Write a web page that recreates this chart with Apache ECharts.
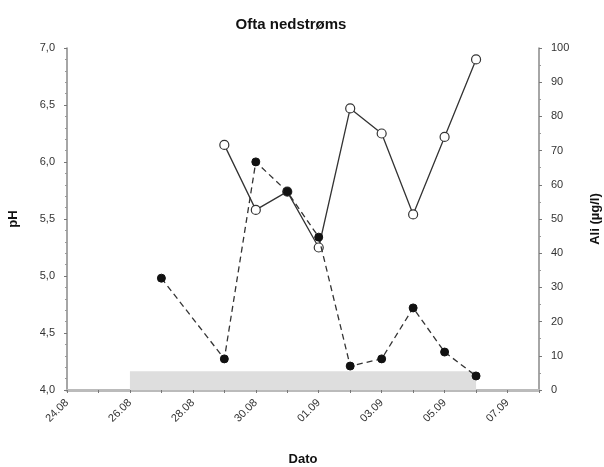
<!DOCTYPE html>
<html>
<head>
<meta charset="utf-8">
<script src="https://cdn.jsdelivr.net/npm/echarts@6/dist/echarts.min.js"></script>
<style>html,body{margin:0;padding:0;background:#fff}#c{width:604px;height:467px}</style>
</head>
<body>
<div id="c"></div>
<script>
// ---- data ----
var dayLabels = ['24.08','25.08','26.08','27.08','28.08','29.08','30.08','31.08','01.09','02.09','03.09','04.09','05.09','06.09','07.09','08.09'];
var phDates  = ['29.08','30.08','31.08','01.09','02.09','03.09','04.09','05.09','06.09'];
var phValues = [6.15, 5.58, 5.74, 5.25, 6.47, 6.25, 5.54, 6.22, 6.90];
var aliDates  = ['27.08','29.08','30.08','31.08','01.09','02.09','03.09','04.09','05.09','06.09'];
var aliValues = [32.7, 9.1, 66.7, 58.0, 44.7, 7.0, 9.1, 24.0, 11.1, 4.1];
var shadeStart = '26.08', shadeEnd = '06.09', shadeTop = 5.5;

function dayIndex(d){ return dayLabels.indexOf(d); }
function pairs(ds, vs){ return ds.map(function(d,i){ return [dayIndex(d), vs[i]]; }); }

var chart = echarts.init(document.getElementById('c'));
var txt = '#333';
chart.setOption({
  animation:false,
  textStyle:{fontFamily:'Liberation Sans, Arial, sans-serif'},
  title:{text:'Ofta nedstrøms', left:286, top:12, textAlign:'center',
    textStyle:{fontSize:15, fontWeight:'bold', color:'#111'}},
  grid:{left:67, right:65, top:48, bottom:77, containLabel:false, outerBoundsMode:'none'},
  xAxis:{type:'value', min:0, max:dayLabels.length-1, interval:1,
    name:'Dato', nameLocation:'middle', nameGap:63,
    nameTextStyle:{fontSize:13, fontWeight:'bold', color:'#111'},
    axisLine:{lineStyle:{color:'#bbb', width:3}},
    axisTick:{length:3, lineStyle:{color:'#777'}},
    axisLabel:{rotate:45, fontSize:11, color:txt, margin:11,
      formatter:function(v){ return (v%2===0 && v<dayLabels.length-1) ? dayLabels[v] : ''; }},
    splitLine:{show:false}},
  yAxis:[
    {type:'value', min:4, max:7, interval:0.5, position:'left',
      name:'pH', nameLocation:'middle', nameGap:47,
      nameTextStyle:{fontSize:13, fontWeight:'bold', color:'#111'},
      axisLine:{show:true, lineStyle:{color:'#888', width:1.5}},
      axisTick:{show:true, length:3, lineStyle:{color:'#777'}},
      minorTick:{show:true, splitNumber:5, length:2, lineStyle:{color:'#999'}},
      axisLabel:{fontSize:11, color:txt, margin:12, formatter:function(v){ return v.toFixed(1).replace('.',','); }},
      splitLine:{show:false}},
    {type:'value', min:0, max:100, interval:10, position:'right',
      name:'Ali (µg/l)', nameLocation:'middle', nameGap:50, nameRotate:90,
      nameTextStyle:{fontSize:13, fontWeight:'bold', color:'#111'},
      axisLine:{show:true, lineStyle:{color:'#888', width:1.5}},
      axisTick:{show:true, length:3, lineStyle:{color:'#777'}},
      minorTick:{show:true, splitNumber:2, length:2, lineStyle:{color:'#999'}},
      axisLabel:{fontSize:11, color:txt, margin:12},
      splitLine:{show:false}}
  ],
  series:[
    {type:'line', yAxisIndex:1, data:[], silent:true,
      markArea:{silent:true, itemStyle:{color:'#dedede'},
        data:[[{coord:[dayIndex(shadeStart),0]},{coord:[dayIndex(shadeEnd),shadeTop]}]]}},
    {name:'pH', type:'line', yAxisIndex:0, data:pairs(phDates, phValues),
      symbol:'circle', symbolSize:9, showSymbol:true,
      lineStyle:{color:'#333', width:1.3},
      itemStyle:{color:'#fff', borderColor:'#333', borderWidth:1.2}, z:3},
    {name:'Ali', type:'line', yAxisIndex:1, data:pairs(aliDates, aliValues),
      symbol:'circle', symbolSize:8,
      lineStyle:{color:'#333', width:1.3, type:[6,4]},
      itemStyle:{color:'#111', borderColor:'#111', borderWidth:1}, z:4}
  ]
});
</script>
</body>
</html>
